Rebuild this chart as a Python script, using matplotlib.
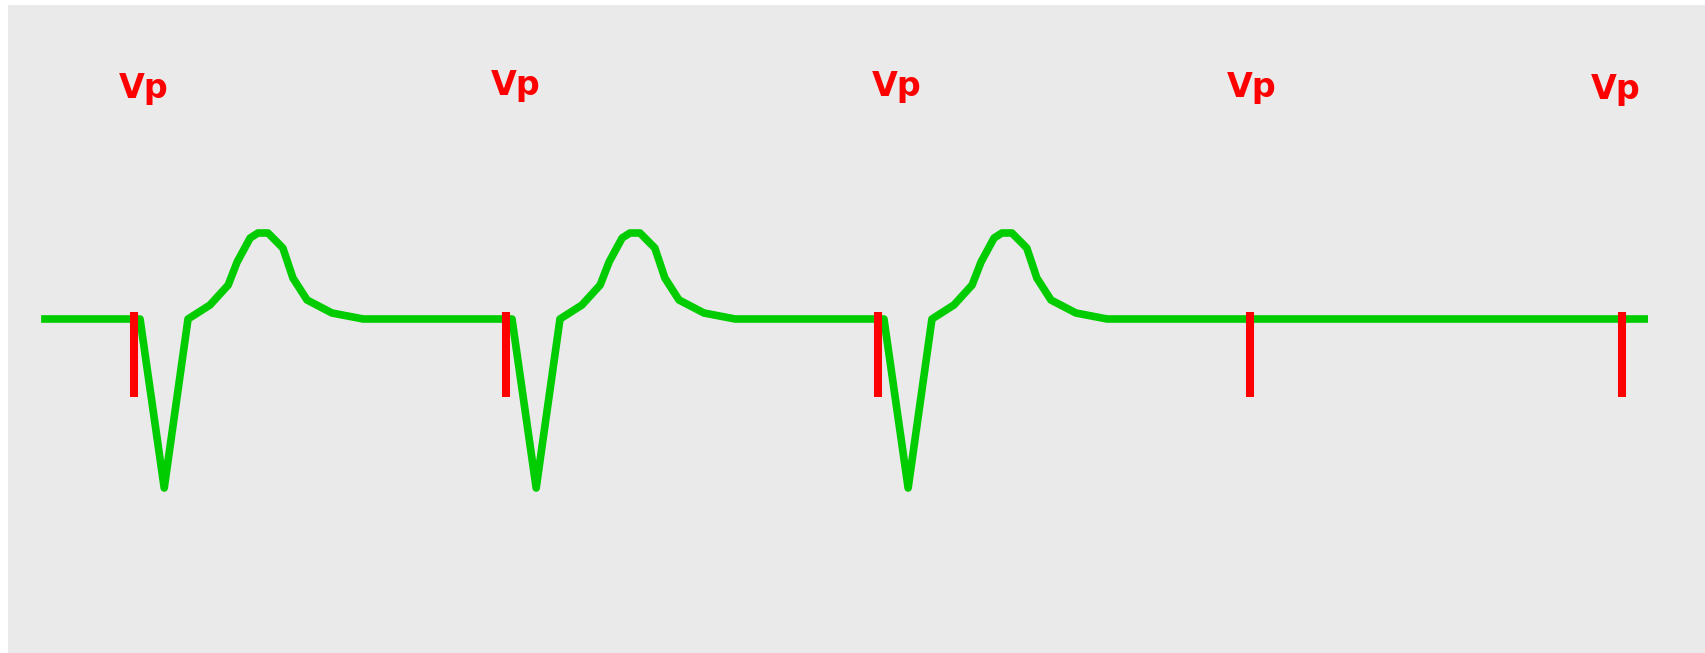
import numpy as np
import matplotlib.pyplot as plt

# ==============================
# DATA (time in ms, signal in mV)
# ==============================
pace_times = [250, 1250, 2250, 3250, 4250]   # Vp pacing spikes
captured = [250, 1250, 2250]                  # beats followed by a QRS/T
trace_start, trace_end = 0, 4320

# paced beat template, offsets from the pace spike
beat_dt = [16, 81, 145, 204, 253, 277, 312, 333, 360, 400, 427, 465, 532, 616]
beat_mv = [0.0, -1.69, 0.0, 0.14, 0.34, 0.57, 0.81, 0.86, 0.86, 0.71, 0.41, 0.19, 0.06, 0.0]

# "Vp" label positions
label_t = [275, 1277, 2300, 3255, 4234]
label_y = [2.21, 2.24, 2.23, 2.22, 2.20]

spike_top, spike_bottom = 0.07, -0.78

# ==============================
# BUILD TRACE
# ==============================
t = [trace_start]
v = [0.0]
for p in captured:
    t.append(p)
    v.append(0.0)
    for dt, mv in zip(beat_dt, beat_mv):
        t.append(p + dt)
        v.append(mv)
t.append(trace_end)
v.append(0.0)

# ==============================
# CHART
# ==============================
fig = plt.figure(figsize=(17.06, 6.53), dpi=100)
ax = fig.add_axes([8 / 1706, 0, 1 - 8 / 1706, 648 / 653])
ax.set_facecolor("#eaeaea")

ax.plot(t, v, color="#00cc00", lw=5.5, solid_joinstyle="round",
        solid_capstyle="butt", zorder=2)
ax.vlines(pace_times, spike_bottom, spike_top, color="#ff0000", lw=5.8, zorder=3)

for lt, ly in zip(label_t, label_y):
    ax.text(lt, ly, "Vp", color="#ff0000", fontsize=24, fontweight="bold",
            ha="center", va="baseline")

ax.set_xlim(-89, 4476)
ax.set_ylim(-3.34, 3.14)
ax.set_xticks([])
ax.set_yticks([])
for s in ax.spines.values():
    s.set_visible(False)

fig.savefig("out.png", dpi=100)
